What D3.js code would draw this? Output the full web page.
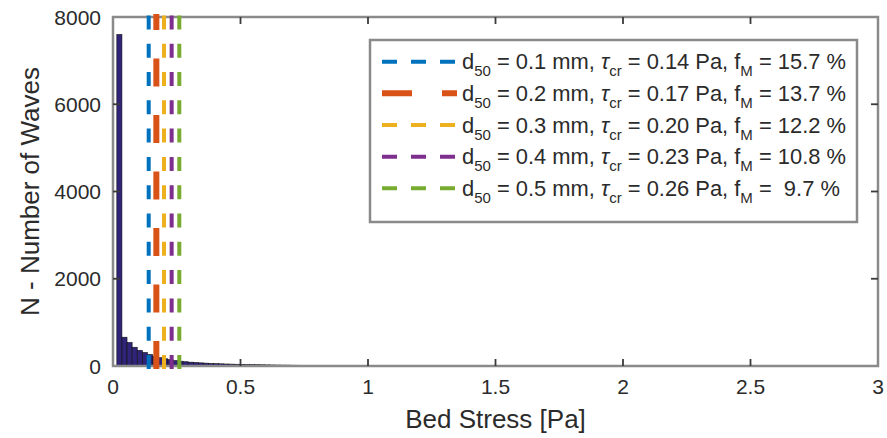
<!DOCTYPE html>
<html>
<head>
<meta charset="utf-8">
<script src="https://cdn.jsdelivr.net/npm/d3@7"></script>
<style>
  html, body { margin: 0; padding: 0; background: #fff; }
  svg { display: block; }
  text { font-family: "Liberation Sans", Arial, Helvetica, sans-serif; fill: #2b2b2b; }
</style>
</head>
<body>
<svg id="chart" width="887" height="438"></svg>
<script>
// Histogram of wave-induced bed stress (bin width 0.02 Pa, first edge 0.015 Pa)
const binStart = 0.015;
const binWidth = 0.02;
const waveCounts = [
  7600, 660, 540, 430, 360, 310, 265, 225, 190, 165,
  145, 125, 110, 98, 88, 80, 72, 66, 60, 55,
  50, 46, 43, 40, 37, 34, 32, 30, 28, 26,
  24, 22, 21, 20, 18, 17, 16, 15, 14, 13,
  12, 11, 10, 10, 9, 8, 8, 7, 6, 6,
  5, 5, 4, 4, 4, 3, 3, 3, 3, 2,
  2, 2, 2, 2, 1, 1, 1, 1, 1, 1,
  1, 0, 1, 0, 1, 0, 0, 1, 0, 0,
  1, 0, 0, 0, 1, 0, 0, 0, 0, 1,
  0, 0, 0, 0, 0, 1, 0, 0, 0, 0,
  0, 0, 1, 0, 0, 0, 0, 0, 0, 0,
  0, 0, 0, 1, 0, 0, 0, 0, 0, 0,
  0, 0, 0, 0, 0, 0, 1, 0, 0, 0,
  0, 0, 0, 0, 0
];

// Critical bed stress for each sediment size
const grainSizes = ["0.1", "0.2", "0.3", "0.4", "0.5"];
const criticalStress = [0.14, 0.17, 0.20, 0.23, 0.26];
const criticalLabels = ["0.14", "0.17", "0.20", "0.23", "0.26"];
const mobileFraction = ["15.7", "13.7", "12.2", "10.8", " 9.7"];
const lineColors = ["#0072BD", "#D95319", "#EDB120", "#7E2F8E", "#77AC30"];

// Axis ticks
const xTicks = [0, 0.5, 1, 1.5, 2, 2.5, 3];
const yTicks = [0, 2000, 4000, 6000, 8000];

const svg = d3.select("#chart");
const plot = { left: 113, right: 878, top: 17, bottom: 366 };

const x = d3.scaleLinear().domain([0, 3]).range([plot.left, plot.right]);
const y = d3.scaleLinear().domain([0, 8000]).range([plot.bottom, plot.top]);

// Bars
const bins = waveCounts.map((c, i) => ({
  x0: binStart + i * binWidth,
  x1: binStart + (i + 1) * binWidth,
  count: c
})).filter(d => d.count > 0);

svg.append("g")
  .selectAll("rect")
  .data(bins)
  .join("rect")
  .attr("x", d => x(d.x0))
  .attr("width", d => x(d.x1) - x(d.x0))
  .attr("y", d => y(d.count))
  .attr("height", d => y(0) - y(d.count))
  .attr("fill", "#2f2478")
  .attr("stroke", "#111")
  .attr("stroke-width", 0.6);

// Axes box
svg.append("rect")
  .attr("x", plot.left).attr("y", plot.top)
  .attr("width", plot.right - plot.left)
  .attr("height", plot.bottom - plot.top)
  .attr("fill", "none")
  .attr("stroke", "#8a8a8a")
  .attr("stroke-width", 2.5);

// Inward ticks on all four sides
const tickLen = 7;
const ticks = svg.append("g").attr("stroke", "#3a3a3a").attr("stroke-width", 1.8);
xTicks.slice(1, -1).forEach(t => {
  ticks.append("line").attr("x1", x(t)).attr("x2", x(t)).attr("y1", plot.bottom).attr("y2", plot.bottom - tickLen);
  ticks.append("line").attr("x1", x(t)).attr("x2", x(t)).attr("y1", plot.top).attr("y2", plot.top + tickLen);
});
yTicks.slice(1, -1).forEach(t => {
  ticks.append("line").attr("x1", plot.left).attr("x2", plot.left + tickLen).attr("y1", y(t)).attr("y2", y(t));
  ticks.append("line").attr("x1", plot.right).attr("x2", plot.right - tickLen).attr("y1", y(t)).attr("y2", y(t));
});

// Critical stress lines (drawn from the bottom upwards)
criticalStress.forEach((s, i) => {
  const isOrange = i === 1;
  svg.append("line")
    .attr("x1", x(s)).attr("x2", x(s))
    .attr("y1", y(0) + 3).attr("y2", y(8000) - 3)
    .attr("stroke", lineColors[i])
    .attr("stroke-width", isOrange ? 6 : 4)
    .attr("stroke-dasharray", isOrange ? "28,28.5" : "14,14.3");
});

// Tick labels
const xFmt = d => d3.format("")(d);
svg.append("g").selectAll("text")
  .data(xTicks).join("text")
  .attr("x", d => x(d)).attr("y", 394)
  .attr("text-anchor", "middle")
  .attr("font-size", 21)
  .text(xFmt);

svg.append("g").selectAll("text")
  .data(yTicks).join("text")
  .attr("x", 101).attr("y", d => y(d))
  .attr("dy", "0.36em")
  .attr("text-anchor", "end")
  .attr("font-size", 21)
  .text(d => d);

// Axis titles
svg.append("text")
  .attr("x", (plot.left + plot.right) / 2).attr("y", 428)
  .attr("text-anchor", "middle")
  .attr("font-size", 26)
  .text("Bed Stress [Pa]");

svg.append("text")
  .attr("transform", `translate(39,${(plot.top + plot.bottom) / 2}) rotate(-90)`)
  .attr("text-anchor", "middle")
  .attr("font-size", 26)
  .text("N - Number of Waves");

// Legend
const legend = svg.append("g");
legend.append("rect")
  .attr("x", 370).attr("y", 40).attr("width", 487).attr("height", 182)
  .attr("fill", "#fff").attr("stroke", "#8a8a8a").attr("stroke-width", 2.5);

const rowY = d3.scaleLinear().domain([0, 4]).range([61.7, 188.3]);
grainSizes.forEach((g, i) => {
  const cy = rowY(i);
  const isOrange = i === 1;
  legend.append("line")
    .attr("x1", 382).attr("x2", 457)
    .attr("y1", cy).attr("y2", cy)
    .attr("stroke", lineColors[i])
    .attr("stroke-width", isOrange ? 6 : 4)
    .attr("stroke-dasharray", isOrange ? "30,30" : "15,14");

  const t = legend.append("text")
    .attr("x", 462).attr("y", cy + 7.5)
    .attr("font-size", 21.9)
    .attr("xml:space", "preserve")
    .style("white-space", "pre");
  t.append("tspan").text("d");
  t.append("tspan").attr("font-size", 15).attr("dy", 7).text("50");
  t.append("tspan").attr("dy", -7).text(` = ${g} mm, `);
  t.append("tspan").attr("font-style", "italic").text("\u03C4");
  t.append("tspan").attr("font-size", 15).attr("dy", 7).text("cr");
  t.append("tspan").attr("dy", -7).text(` = ${criticalLabels[i]} Pa, f`);
  t.append("tspan").attr("font-size", 15).attr("dy", 7).text("M");
  t.append("tspan").attr("dy", -7).text(` = ${mobileFraction[i]} %`);
});
</script>
</body>
</html>
